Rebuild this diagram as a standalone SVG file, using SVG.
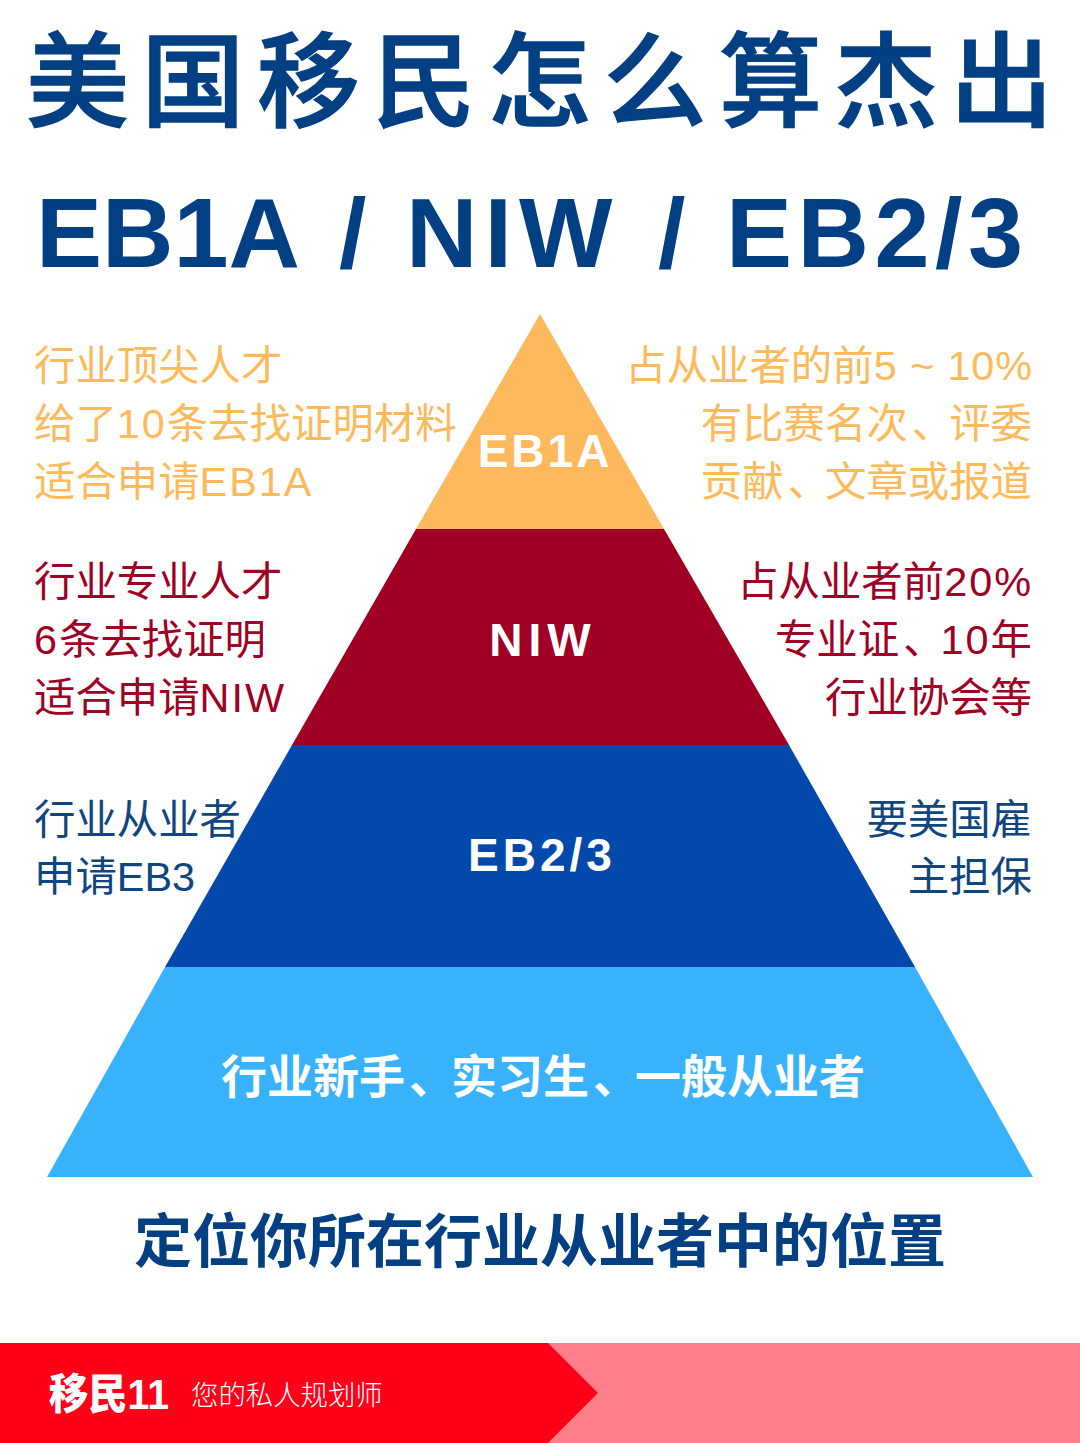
<svg xmlns="http://www.w3.org/2000/svg" width="1080" height="1443" viewBox="0 0 1080 1443">
<style>
text{font-family:"Liberation Sans","Noto Sans CJK SC",sans-serif}
.t1{font-size:103px;font-weight:500;fill:#033f83;letter-spacing:12.5px;stroke:#033f83;stroke-width:1.5px}
.t2{font-size:99px;font-weight:700;fill:#033f83}
.s{font-size:41.4px;font-weight:400}
.l{letter-spacing:2px}
.o{fill:#fdba5b}.r{fill:#a00023}.b{fill:#0f4680}
.e{text-anchor:end}
.c{font-size:46px;font-weight:700;fill:#fff;text-anchor:middle}
</style>
<rect width="1080" height="1443" fill="#fff"/>
<g id="title"><text class="t1" x="26" y="119">美国移民怎么算杰出</text>
<text class="t2" y="267"><tspan x="36">EB1A</tspan><tspan x="339">/</tspan><tspan x="406" letter-spacing="7">NIW</tspan><tspan x="658">/</tspan><tspan x="726" letter-spacing="5.5">EB2/3</tspan></text></g>
<g id="tier-eb1a"><polygon points="540,314 664,529 416,529" fill="#fdb95b"/><text class="c" x="545" y="467" letter-spacing="3">EB1A</text></g>
<g id="tier-niw"><polygon points="416,529 664,529 789,745 292,745" fill="#a00023"/><text class="c" x="543" y="656" letter-spacing="6">NIW</text></g>
<g id="tier-eb23"><polygon points="292,745 789,745 915,967 165,967" fill="#0349ab"/><text class="c" x="542" y="871" letter-spacing="4">EB2/3</text></g>
<g id="tier-base"><polygon points="165,967 915,967 1033,1177 47,1177" fill="#39b2fd"/><text class="c" x="543" y="1093">行业新手<tspan dx="4">、</tspan><tspan dx="-4">实习生</tspan><tspan dx="4">、</tspan><tspan dx="-4">一般从业者</tspan></text></g>
<g id="labels-left">
<text class="s o" x="34" y="380">行业顶尖人才</text><text class="s o" x="34" y="438">给了<tspan class="l">10</tspan>条去找证明材料</text><text class="s o" x="34" y="496">适合申请<tspan class="l">EB1A</tspan></text>
<text class="s r" x="34" y="596">行业专业人才</text><text class="s r" x="34" y="654"><tspan class="l">6</tspan>条去找证明</text><text class="s r" x="34" y="712">适合申请<tspan class="l">NIW</tspan></text>
<text class="s b" x="34" y="834">行业从业者</text><text class="s b" x="34" y="891">申请EB3</text></g>
<g id="labels-right">
<text class="s o e" x="1033" y="380">占从业者的前<tspan letter-spacing="0.9">5 ~ 10%</tspan></text><text class="s o e" x="1032" y="438">有比赛名次<tspan dx="4">、</tspan><tspan dx="-4">评委</tspan></text><text class="s o e" x="1032" y="496">贡献<tspan dx="4">、</tspan><tspan dx="-4">文章或报道</tspan></text>
<text class="s r e" x="1033" y="596">占从业者前<tspan class="l">20%</tspan></text><text class="s r e" x="1032" y="654">专业证<tspan dx="4">、</tspan><tspan dx="-4" class="l">10</tspan>年</text><text class="s r e" x="1032" y="712">行业协会等</text>
<text class="s b e" x="1032" y="834">要美国雇</text><text class="s b e" x="1032" y="891">主担保</text></g>
<g id="caption"><text x="540" y="1262" text-anchor="middle" font-size="58" font-weight="700" fill="#033f83">定位你所在行业从业者中的位置</text></g>
<g id="footer"><rect y="1343" width="1080" height="100" fill="#ff808a"/><polygon points="0,1343 548,1343 598,1393 548,1443 0,1443" fill="#ff0018"/>
<text x="49" y="1409" font-size="42" font-weight="900" fill="#fff" textLength="120" lengthAdjust="spacingAndGlyphs">移民11</text>
<text x="191" y="1405" font-size="27.4" font-weight="300" fill="#fff">您的私人规划师</text></g>
</svg>
